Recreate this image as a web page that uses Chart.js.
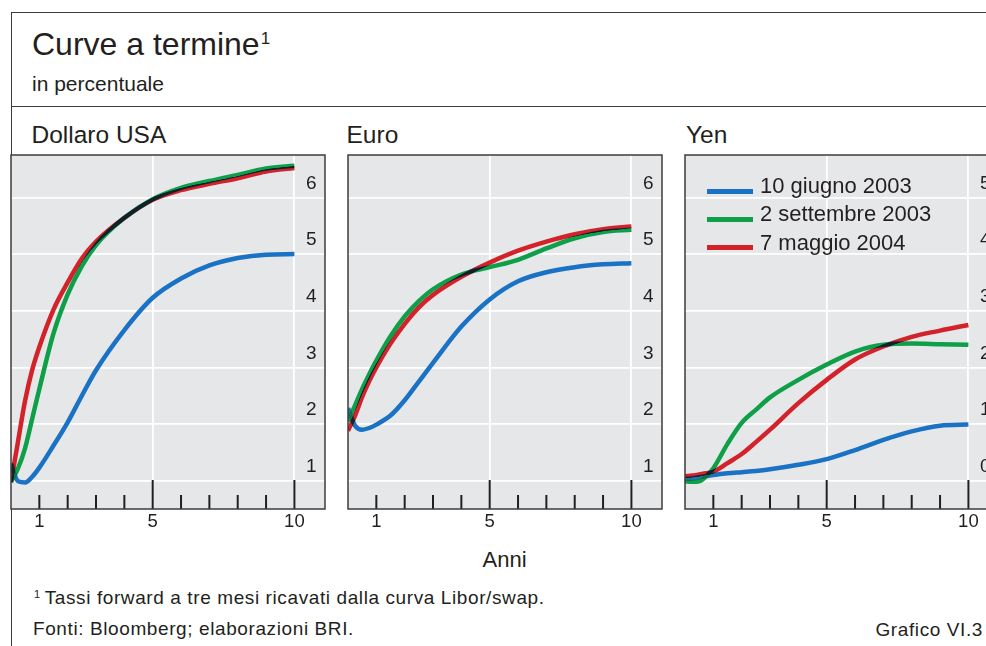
<!DOCTYPE html>
<html>
<head>
<meta charset="utf-8">
<script src="https://cdn.jsdelivr.net/npm/chart.js@4.4.1/dist/chart.umd.min.js"></script>
<style>
html, body { margin: 0; padding: 0; background: #fff; }
body { width: 986px; height: 646px; position: relative; overflow: hidden;
       font-family: "Liberation Sans", Arial, sans-serif; color: #231f20; }
.t { position: absolute; line-height: 1; white-space: nowrap; }
.fr { position: absolute; background: #3c3c3c; }
canvas { position: absolute; }
.note { font-size: 19px; letter-spacing: 0.6px; }
</style>
</head>
<body>
<div class="fr" style="left:10.5px;top:11.5px;width:980px;height:1.4px"></div>
<div class="fr" style="left:10.5px;top:11.5px;width:1.4px;height:640px"></div>
<div class="fr" style="left:10.5px;top:105.8px;width:980px;height:1.4px"></div>

<div class="t" style="left:32px;top:27.9px;font-size:32px">Curve a termine<span style="font-size:17px;position:relative;top:-11px;margin-left:1px">1</span></div>
<div class="t" style="left:32px;top:72.7px;font-size:21px">in percentuale</div>

<div class="t" style="left:31.5px;top:123.3px;font-size:24.5px">Dollaro USA</div>
<div class="t" style="left:346.5px;top:123.3px;font-size:24.5px">Euro</div>
<div class="t" style="left:686px;top:123.3px;font-size:24.5px">Yen</div>

<canvas id="usd" width="318" height="383" style="left:9px;top:150px"></canvas>
<canvas id="eur" width="318" height="383" style="left:346px;top:150px"></canvas>
<canvas id="yen" width="318" height="383" style="left:683px;top:150px"></canvas>

<div id="legend"></div>

<div class="t" style="left:482.5px;top:548.7px;font-size:22px">Anni</div>
<div class="t note" style="left:34px;top:588.3px"><span style="font-size:11px;position:relative;top:-6px;margin-right:4px">1</span>Tassi forward a tre mesi ricavati dalla curva Libor/swap.</div>
<div class="t note" style="left:33px;top:618.8px">Fonti: Bloomberg; elaborazioni BRI.</div>
<div class="t note" style="right:3px;top:619.8px">Grafico VI.3</div>

<script>
// scadenze in anni
const anni = [0, 0.25, 0.5, 0.75, 1, 1.5, 2, 2.5, 3, 4, 5, 6, 7, 8, 9, 10];
const dateLabels = ['10 giugno 2003', '2 settembre 2003', '7 maggio 2004'];
const colori = ['#1a72c4', '#0e9f48', '#d3222a'];

// Dollaro USA
const usdGiu03 = [1.3, 0.99, 0.97, 1.07, 1.23, 1.62, 2.03, 2.5, 2.95, 3.66, 4.23, 4.57, 4.8, 4.93, 4.99, 5.0];
const usdSet03 = [0.98, 1.22, 1.58, 2.1, 2.62, 3.6, 4.29, 4.79, 5.16, 5.64, 5.97, 6.17, 6.29, 6.4, 6.51, 6.56];
const usdMag04 = [0.97, 1.7, 2.42, 2.96, 3.36, 4.02, 4.5, 4.92, 5.22, 5.64, 5.96, 6.13, 6.24, 6.34, 6.46, 6.52];
// Euro
const eurGiu03 = [2.28, 1.97, 1.9, 1.93, 1.99, 2.15, 2.42, 2.75, 3.08, 3.72, 4.2, 4.52, 4.68, 4.77, 4.82, 4.84];
const eurSet03 = [2.05, 2.33, 2.62, 2.88, 3.12, 3.55, 3.9, 4.17, 4.38, 4.64, 4.77, 4.9, 5.1, 5.28, 5.39, 5.43];
const eurMag04 = [1.88, 2.15, 2.48, 2.76, 3.0, 3.42, 3.77, 4.06, 4.28, 4.6, 4.85, 5.06, 5.22, 5.35, 5.44, 5.49];
// Yen
const yenGiu03 = [0.03, 0.04, 0.06, 0.08, 0.1, 0.13, 0.15, 0.17, 0.2, 0.28, 0.38, 0.54, 0.72, 0.87, 0.97, 0.99];
const yenSet03 = [-0.01, -0.02, -0.01, 0.08, 0.22, 0.65, 1.02, 1.25, 1.47, 1.78, 2.05, 2.28, 2.4, 2.42, 2.41, 2.4];
const yenMag04 = [0.08, 0.09, 0.11, 0.13, 0.16, 0.31, 0.47, 0.68, 0.9, 1.37, 1.78, 2.14, 2.37, 2.54, 2.65, 2.75];

const xTicks = [1, 2, 3, 4, 5, 6, 7, 8, 9, 10];
const xLabels = [1, 5, 10];
const xGridAt = [5, 10];
const yTicksUsdEur = [1, 2, 3, 4, 5, 6];
const yTicksYen = [0, 1, 2, 3, 4, 5];

const FONT = 'Liberation Sans';
const INK = '#231f20';

const panelPlugin = {
  id: 'panel',
  beforeDraw(chart) {
    const {ctx, chartArea: a} = chart;
    ctx.save();
    ctx.fillStyle = '#e6e7e9';
    ctx.fillRect(a.left, a.top, a.width, a.height);
    ctx.restore();
  },
  beforeDatasetsDraw(chart) {
    // sovrapposizione come in stampa
    chart.ctx.save();
    chart.ctx.globalCompositeOperation = 'darken';
  },
  afterDatasetsDraw(chart) {
    chart.ctx.restore();
  },
  afterDraw(chart) {
    const {ctx, chartArea: a, scales: {x}} = chart;
    ctx.save();
    ctx.strokeStyle = INK;
    ctx.lineWidth = 2;
    xTicks.forEach(v => {
      const px = x.getPixelForValue(v);
      const len = xGridAt.includes(v) ? 29 : 14;
      ctx.beginPath();
      ctx.moveTo(px, a.bottom);
      ctx.lineTo(px, a.bottom - len);
      ctx.stroke();
    });
    ctx.strokeStyle = '#3c3c3c';
    ctx.lineWidth = 1.5;
    ctx.strokeRect(a.left, a.top, a.width, a.height);
    ctx.restore();
  }
};

function noPad(s) {
  s.paddingTop = 0; s.paddingBottom = 0; s.paddingLeft = 0; s.paddingRight = 0;
}

function makeChart(id, series, yMin, yMax, yTicks) {
  const ctx = document.getElementById(id).getContext('2d');
  return new Chart(ctx, {
    type: 'line',
    data: {
      datasets: series.map((s, i) => ({
        label: dateLabels[i],
        data: anni.map((a, j) => ({x: a, y: s[j]})),
        borderColor: colori[i],
        borderWidth: 4.5,
        pointRadius: 0,
        cubicInterpolationMode: 'monotone',
        fill: false,
        clip: 0
      }))
    },
    options: {
      responsive: false,
      animation: false,
      layout: {padding: {left: 2, right: 2, top: 5, bottom: 0}},
      plugins: {legend: {display: false}, tooltip: {enabled: false}},
      scales: {
        x: {
          type: 'linear', min: 0, max: 11.08,
          afterBuildTicks: s => { s.ticks = xTicks.map(v => ({value: v})); },
          afterFit: s => { s.height = 24; noPad(s); },
          grid: {
            color: c => (c.tick && xGridAt.includes(c.tick.value)) ? '#ffffff' : 'rgba(0,0,0,0)',
            lineWidth: 1.8, drawTicks: false
          },
          border: {display: false},
          ticks: {
            autoSkip: false, maxRotation: 0, padding: 2, color: INK,
            font: {family: FONT, size: 18.5},
            callback: v => xLabels.includes(v) ? String(v) : ''
          }
        },
        y: {
          position: 'right', min: yMin, max: yMax,
          afterBuildTicks: s => { s.ticks = yTicks.map(v => ({value: v})); },
          afterFit: s => { s.width = 0; noPad(s); },
          grid: {color: '#ffffff', lineWidth: 1.8, drawTicks: false},
          border: {display: false},
          ticks: {
            mirror: true, padding: -8.5, labelOffset: -14, color: INK,
            font: {family: FONT, size: 19}
          }
        }
      }
    },
    plugins: [panelPlugin]
  });
}

makeChart('usd', [usdGiu03, usdSet03, usdMag04], 0.5, 6.75, yTicksUsdEur);
makeChart('eur', [eurGiu03, eurSet03, eurMag04], 0.5, 6.75, yTicksUsdEur);
makeChart('yen', [yenGiu03, yenSet03, yenMag04], -0.5, 5.75, yTicksYen);

// legenda dentro il pannello Yen
const leg = document.getElementById('legend');
dateLabels.forEach((lab, i) => {
  const line = document.createElement('div');
  line.style.cssText = 'position:absolute;left:707px;width:46px;height:5px;top:' + (189.2 + 28 * i) + 'px;background:' + colori[i];
  leg.appendChild(line);
  const txt = document.createElement('div');
  txt.className = 't';
  txt.style.cssText = 'left:760px;font-size:22px;top:' + (174.7 + 28.5 * i) + 'px';
  txt.textContent = lab;
  leg.appendChild(txt);
});
</script>
</body>
</html>
